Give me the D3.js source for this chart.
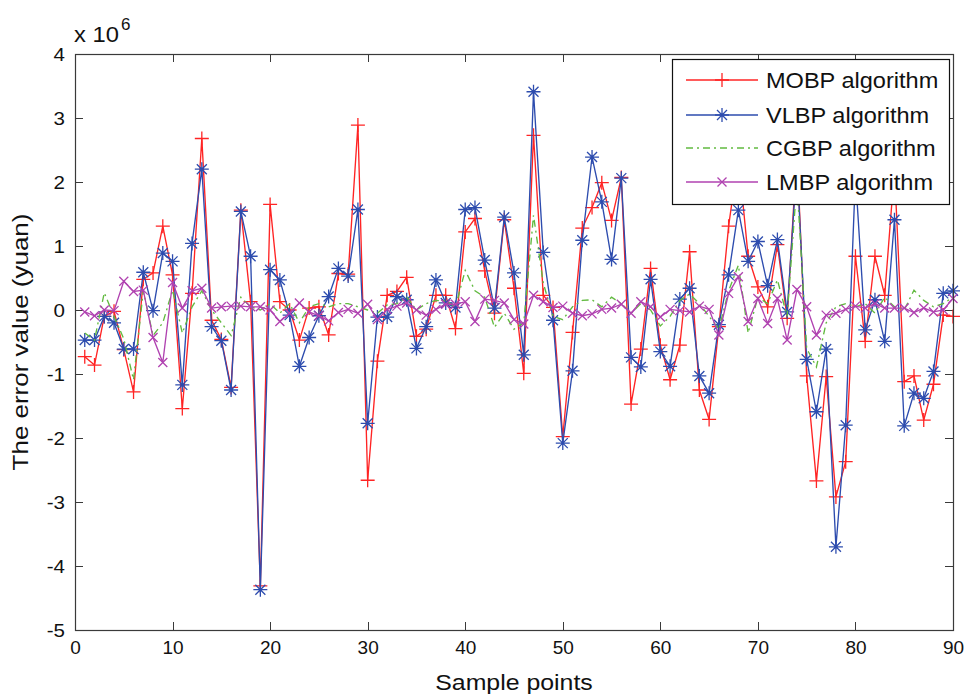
<!DOCTYPE html>
<html>
<head>
<meta charset="utf-8">
<script src="https://cdn.jsdelivr.net/npm/d3@7"></script>
<style>
  html, body { margin: 0; padding: 0; background: #fff; }
  svg { display: block; font-family: "Liberation Sans", Arial, sans-serif; }
</style>
</head>
<body>
<svg id="chart" width="969" height="694"></svg>
<script>
// Prediction error of four BP training algorithms (values in units of 10^6 yuan)
const mobp = [
  -0.73, -0.86, -0.10, -0.02, -0.62, -1.28, 0.48, 0.58, 1.31, 0.55,
  -1.54, 0.26, 2.68, -0.16, -0.46, -1.21, 1.56, 0.13, -4.31, 1.65,
  0.13, 0.00, -0.47, 0.03, 0.05, -0.39, 0.57, 0.56, 2.89, -2.66,
  -0.80, 0.23, 0.29, 0.51, -0.41, -0.30, 0.23, 0.23, -0.29, 1.22,
  1.43, 0.61, -0.05, 1.41, 0.34, -0.99, 2.73, 0.23, 0.04, -1.98,
  -0.35, 1.28, 1.60, 1.99, 1.40, 2.07, -1.47, -0.61, 0.65, -0.55,
  -1.09, -0.55, 0.91, -1.25, -1.71, -0.26, 1.31, 2.40, 0.84, 0.36,
  0.05, 1.02, -0.13, 2.50, -1.03, -2.67, -1.04, -2.92, -2.37, 0.84,
  -0.49, 0.84, 0.23, 2.20, -1.12, -1.03, -1.72, -1.16, -0.08, -0.10
];
const vlbp = [
  -0.47, -0.47, -0.10, -0.20, -0.61, -0.61, 0.59, -0.01, 0.89, 0.76,
  -1.17, 1.04, 2.20, -0.26, -0.48, -1.25, 1.54, 0.84, -4.37, 0.63,
  0.47, -0.08, -0.88, -0.43, -0.09, 0.21, 0.65, 0.53, 1.57, -1.77,
  -0.11, -0.11, 0.21, 0.16, -0.60, -0.26, 0.47, 0.11, 0.04, 1.57,
  1.60, 0.78, 0.03, 1.45, 0.58, -0.70, 3.41, 0.90, -0.16, -2.08,
  -0.95, 1.09, 2.39, 1.69, 0.79, 2.06, -0.74, -0.89, 0.48, -0.65,
  -0.88, 0.17, 0.34, -1.03, -1.30, -0.23, 0.55, 1.56, 0.76, 1.07,
  0.38, 1.10, -0.03, 2.30, -0.77, -1.59, -0.61, -3.70, -1.80, 2.10,
  -0.31, 0.16, -0.49, 1.41, -1.81, -1.30, -1.38, -0.96, 0.26, 0.30
];
const cgbp = [
  -0.36, -0.47, 0.27, -0.10, -0.45, -1.09, 0.30, -0.40, -0.20, 0.31,
  -0.36, 0.05, 0.30, 0.00, -0.20, -0.40, 0.20, 0.05, 0.00, 0.10,
  -0.05, 0.10, -0.20, 0.05, 0.10, 0.05, 0.10, 0.10, 0.05, 0.00,
  -0.05, 0.08, 0.10, 0.20, 0.00, 0.10, 0.15, 0.14, 0.05, 0.62,
  0.30, 0.20, -0.27, -0.05, -0.30, -0.20, 1.48, 0.42, -0.10, -0.15,
  0.05, 0.15, 0.16, 0.05, 0.20, 0.10, -0.05, 0.10, 0.00, -0.25,
  -0.10, 0.15, 0.25, 0.10, -0.10, -0.30, 0.30, 0.70, -0.36, 0.20,
  0.10, 0.47, -0.10, 2.00, -0.60, -0.89, -0.20, 0.05, 0.10, 0.05,
  0.10, -0.05, 0.20, 0.05, 0.00, 0.31, 0.15, 0.05, 0.10, 0.20
];
const lmbp = [
  -0.03, -0.09, 0.00, -0.01, 0.45, 0.29, 0.31, -0.43, -0.82, 0.43,
  0.03, 0.30, 0.34, 0.03, 0.05, 0.06, 0.06, 0.05, 0.05, 0.00,
  -0.18, -0.05, 0.11, -0.03, -0.09, -0.17, -0.04, 0.01, -0.05, 0.09,
  -0.15, 0.01, 0.06, 0.11, 0.00, -0.08, 0.01, 0.09, 0.09, 0.13,
  -0.18, 0.17, 0.15, 0.11, -0.15, -0.22, 0.23, 0.13, 0.04, 0.06,
  -0.05, -0.09, -0.06, 0.01, 0.03, 0.09, -0.05, 0.13, 0.05, -0.11,
  0.01, -0.01, -0.03, 0.06, 0.01, -0.39, 0.26, 0.52, -0.18, 0.18,
  -0.21, 0.18, -0.47, 0.32, 0.05, -0.39, -0.08, -0.05, 0.01, 0.06,
  0.03, 0.10, 0.03, 0.03, 0.03, -0.04, 0.03, -0.03, 0.00, 0.18
];
const seriesNames = ["MOBP algorithm", "VLBP algorithm", "CGBP algorithm", "LMBP algorithm"];
const xTicks = [0, 10, 20, 30, 40, 50, 60, 70, 80, 90];
const yTicks = [-5, -4, -3, -2, -1, 0, 1, 2, 3, 4];
const yExponentLabel = "x 10";
const yExponent = "6";
const xLabel = "Sample points";
const yLabel = "The error value (yuan)";

const series = [
  { name: seriesNames[0], values: mobp, color: "#ff2424", marker: "plus", dash: null },
  { name: seriesNames[1], values: vlbp, color: "#2d4cae", marker: "star", dash: null },
  { name: seriesNames[2], values: cgbp, color: "#62ba40", marker: null, dash: "7,4,2,4" },
  { name: seriesNames[3], values: lmbp, color: "#b042b0", marker: "cross", dash: null }
];

const svg = d3.select("#chart");
const plot = { left: 75, right: 953, top: 54, bottom: 630 };

const x = d3.scaleLinear().domain([0, 90]).range([plot.left, plot.right]);
const y = d3.scaleLinear().domain([-5, 4]).range([plot.bottom, plot.top]);

const markerPath = {
  plus: "M-7,0H7M0,-7V7",
  star: "M-7,0H7M0,-7V7M-5,-5L5,5M-5,5L5,-5",
  cross: "M-4.5,-4.5L4.5,4.5M-4.5,4.5L4.5,-4.5"
};

// widen a text element horizontally by a factor (the figure's type runs wide)
function stretch(sel, k) {
  sel.each(function () {
    const w = this.getComputedTextLength();
    d3.select(this).attr("textLength", w * k).attr("lengthAdjust", "spacingAndGlyphs");
  });
}

// plain ASCII hyphen for negative tick values
const plainFormat = d => String(d);

// axes: ticks pointing inward on all four sides (boxed frame)
const tickLen = 8;
const axisColor = "#3a3a3a";
const axes = svg.append("g");

const bottomAxis = d3.axisBottom(x).tickValues(xTicks).tickFormat(plainFormat).tickSize(0).tickPadding(11);
const gx = axes.append("g").attr("transform", `translate(0,${plot.bottom})`).call(bottomAxis);
gx.select(".domain").remove();
gx.selectAll("text").attr("font-size", 19).attr("fill", "#111").attr("font-family", "Liberation Sans, Arial, sans-serif");

const leftAxis = d3.axisLeft(y).tickValues(yTicks).tickFormat(plainFormat).tickSize(0).tickPadding(10);
const gy = axes.append("g").attr("transform", `translate(${plot.left},0)`).call(leftAxis);
gy.select(".domain").remove();
gy.selectAll("text").attr("font-size", 19).attr("fill", "#111").attr("font-family", "Liberation Sans, Arial, sans-serif");
stretch(gy.selectAll("text"), 1.08);

const tickG = axes.append("g").attr("stroke", axisColor).attr("stroke-width", 1);
xTicks.forEach(t => {
  const px = Math.round(x(t)) + 0.5;
  tickG.append("line").attr("x1", px).attr("x2", px).attr("y1", plot.bottom).attr("y2", plot.bottom - tickLen);
  tickG.append("line").attr("x1", px).attr("x2", px).attr("y1", plot.top).attr("y2", plot.top + tickLen);
});
yTicks.forEach(t => {
  const py = Math.round(y(t)) + 0.5;
  tickG.append("line").attr("y1", py).attr("y2", py).attr("x1", plot.left).attr("x2", plot.left + tickLen);
  tickG.append("line").attr("y1", py).attr("y2", py).attr("x1", plot.right).attr("x2", plot.right - tickLen);
});

// data lines
const line = d3.line().x((d, i) => x(i + 1)).y(d => y(d));
const dataG = svg.append("g");
series.forEach(s => {
  const g = dataG.append("g");
  g.append("path")
    .datum(s.values)
    .attr("d", line)
    .attr("fill", "none")
    .attr("stroke", s.color)
    .attr("stroke-width", 1.35)
    .attr("stroke-dasharray", s.dash);
  if (s.marker) {
    g.selectAll("path.m")
      .data(s.values)
      .join("path")
      .attr("class", "m")
      .attr("d", markerPath[s.marker])
      .attr("transform", (d, i) => `translate(${x(i + 1)},${y(d)})`)
      .attr("fill", "none")
      .attr("stroke", s.color)
      .attr("stroke-width", 1.3);
  }
});

// frame
svg.append("rect")
  .attr("x", plot.left + 0.5).attr("y", plot.top + 0.5)
  .attr("width", plot.right - plot.left).attr("height", plot.bottom - plot.top)
  .attr("fill", "none").attr("stroke", axisColor).attr("stroke-width", 1.2);

// exponent label
svg.append("text").attr("x", 74).attr("y", 42).attr("font-size", 22).attr("fill", "#111")
  .text(yExponentLabel).call(stretch, 1.08);
svg.append("text").attr("x", 121).attr("y", 30).attr("font-size", 17).attr("fill", "#111").text(yExponent);

// axis titles
svg.append("text")
  .attr("x", (plot.left + plot.right) / 2).attr("y", 690)
  .attr("text-anchor", "middle").attr("font-size", 22).attr("fill", "#111")
  .text(xLabel).call(stretch, 1.13);
svg.append("text")
  .attr("transform", `translate(28,${(plot.top + plot.bottom) / 2}) rotate(-90)`)
  .attr("text-anchor", "middle").attr("font-size", 22).attr("fill", "#111")
  .text(yLabel).call(stretch, 1.18);

// legend
const lg = svg.append("g");
const lgBox = { x: 672.5, y: 59.5, w: 277, h: 145 };
lg.append("rect")
  .attr("x", lgBox.x).attr("y", lgBox.y).attr("width", lgBox.w).attr("height", lgBox.h)
  .attr("fill", "#fff").attr("stroke", "#111").attr("stroke-width", 1.2);
const rowY = [80, 115, 148, 182];
series.forEach((s, i) => {
  const ry = rowY[i];
  lg.append("line")
    .attr("x1", 686).attr("x2", 758).attr("y1", ry).attr("y2", ry)
    .attr("stroke", s.color).attr("stroke-width", 1.3)
    .attr("stroke-dasharray", s.dash);
  if (s.marker) {
    lg.append("path").attr("d", markerPath[s.marker])
      .attr("transform", `translate(722,${ry})`)
      .attr("fill", "none").attr("stroke", s.color).attr("stroke-width", 1.3);
  }
  lg.append("text")
    .attr("x", 766).attr("y", ry).attr("dy", "0.36em")
    .attr("font-size", 22).attr("fill", "#111")
    .text(s.name).call(stretch, 1.07);
});
</script>
</body>
</html>
